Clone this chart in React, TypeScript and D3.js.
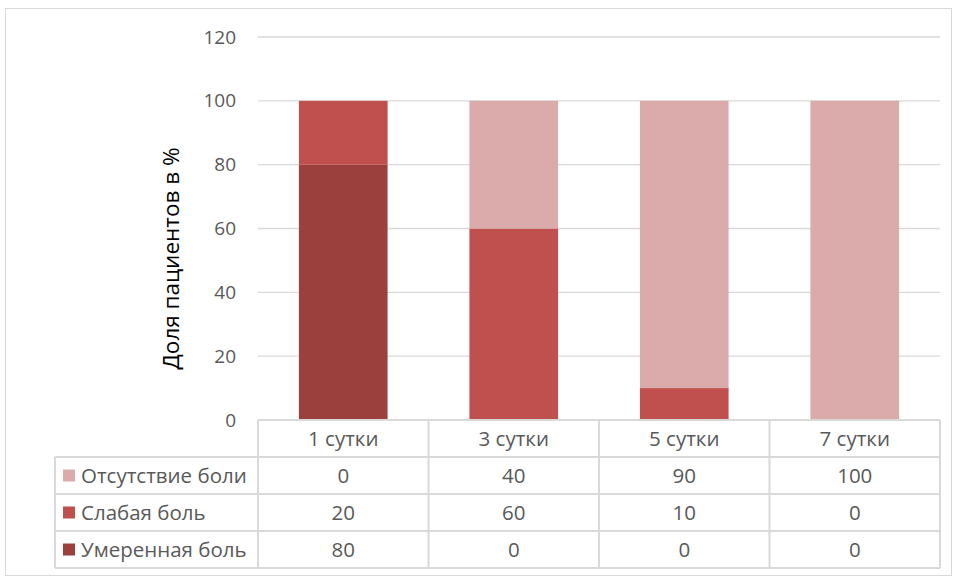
import React from "react";
import * as d3 from "d3";

const categories = ["1 сутки", "3 сутки", "5 сутки", "7 сутки"];
const seriesNames = ["Отсутствие боли", "Слабая боль", "Умеренная боль"];
const noPain = [0, 40, 90, 100];
const mildPain = [20, 60, 10, 0];
const moderatePain = [80, 0, 0, 0];
const yTicks = [0, 20, 40, 60, 80, 100, 120];
const colors = ["#DBABAB", "#C0504D", "#9C403D"];
const yTitle = "Доля пациентов в %";

const W = 959, H = 578;
const plotL = 258, plotR = 940, plotT = 37, plotB = 420;
const rowH = 37;
const tableL = 55;
const font = "'Open Sans', 'Noto Sans', sans-serif";

export default function App() {
  const x = d3.scaleBand().domain(categories).range([plotL, plotR]).paddingInner(0).paddingOuter(0);
  const y = d3.scaleLinear().domain([0, 120]).range([plotB, plotT]);
  const barW = x.bandwidth() * 0.52;
  const seriesVals = [noPain, mildPain, moderatePain];
  const stackData = categories.map((c, i) => ({ cat: c, moderate: moderatePain[i], mild: mildPain[i], none: noPain[i] }));
  const stack = d3.stack<any>().keys(["moderate", "mild", "none"])(stackData);
  const keyColor: Record<string, string> = { moderate: colors[2], mild: colors[1], none: colors[0] };
  const grid = "#D9D9D9";
  const txt = "#595959";
  const fs = 20.5;

  return (
    <svg width={W} height={H} style={{ position: "absolute", left: 0, top: 0, background: "#fff" }}>
      <rect x={5.5} y={8.5} width={946} height={567} fill="#fff" stroke={grid} />
      {yTicks.filter(t => t > 0).map(t => (
        <line key={t} x1={plotL} x2={plotR} y1={y(t)} y2={y(t)} stroke={grid} strokeWidth={1.3} />
      ))}
      {yTicks.map(t => (
        <text key={"l" + t} x={236} y={y(t)} dy="0.35em" textAnchor="end" fontFamily={font} fontSize={19} fill={txt}>{t}</text>
      ))}
      <text transform={`translate(179,${(plotT + plotB) / 2 + 30}) rotate(-90)`} textAnchor="middle" fontFamily={font} fontSize={22.5} fill="#000">{yTitle}</text>
      {stack.map(layer => (
        <g key={layer.key}>
          {layer.map((d, i) => d[1] - d[0] > 0 ? (
            <rect key={i} x={(x(categories[i]) as number) + (x.bandwidth() - barW) / 2} y={y(d[1])} width={barW} height={y(d[0]) - y(d[1])} fill={keyColor[layer.key]} />
          ) : null)}
        </g>
      ))}
      <g stroke={grid} strokeWidth={2} fill="none">
        <line x1={plotL} x2={plotR} y1={plotB} y2={plotB} />
        <line x1={tableL} x2={plotR} y1={plotB + rowH} y2={plotB + rowH} />
        <line x1={tableL} x2={plotR} y1={plotB + rowH * 2} y2={plotB + rowH * 2} />
        <line x1={tableL} x2={plotR} y1={plotB + rowH * 3} y2={plotB + rowH * 3} />
        <line x1={tableL} x2={plotR} y1={plotB + rowH * 4} y2={plotB + rowH * 4} />
        <line x1={tableL} x2={tableL} y1={plotB + rowH} y2={plotB + rowH * 4} />
        {categories.map(c => (
          <line key={c} x1={x(c)} x2={x(c)} y1={plotB} y2={plotB + rowH * 4} />
        ))}
        <line x1={plotR} x2={plotR} y1={plotB} y2={plotB + rowH * 4} />
      </g>
      {categories.map(c => (
        <text key={c} x={(x(c) as number) + x.bandwidth() / 2} y={plotB + rowH / 2} dy="0.35em" textAnchor="middle" fontFamily={font} fontSize={fs} fill={txt}>{c}</text>
      ))}
      {seriesNames.map((s, r) => (
        <g key={s}>
          <rect x={63} y={plotB + rowH * (r + 1) + rowH / 2 - 6} width={12} height={12} fill={colors[r]} />
          <text x={81} y={plotB + rowH * (r + 1) + rowH / 2} dy="0.35em" fontFamily={font} fontSize={fs} fill={txt}>{s}</text>
          {categories.map((c, i) => (
            <text key={c} x={(x(c) as number) + x.bandwidth() / 2} y={plotB + rowH * (r + 1) + rowH / 2} dy="0.35em" textAnchor="middle" fontFamily={font} fontSize={fs} fill={txt}>{seriesVals[r][i]}</text>
          ))}
        </g>
      ))}
    </svg>
  );
}
